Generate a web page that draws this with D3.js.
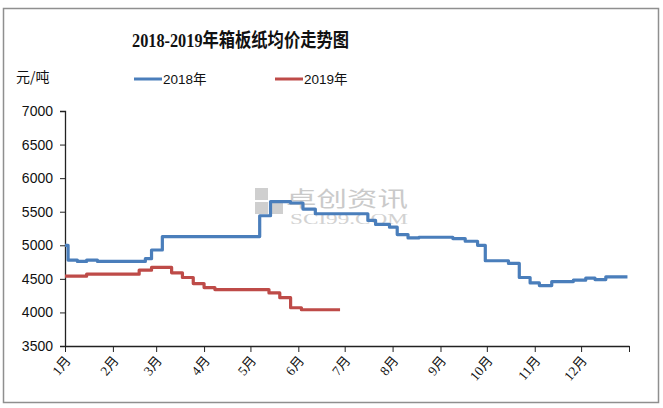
<!DOCTYPE html>
<html><head><meta charset="utf-8">
<script src="https://cdn.jsdelivr.net/npm/d3@7"></script>
<style>body{margin:0;background:#fff}svg{display:block}</style>
</head><body><svg id="c" width="663" height="408"></svg>
<script>
const title = "2018-2019年箱板纸均价走势图";
const unitLabel = "元/吨";
const seriesNames = ["2018年", "2019年"];
const monthLabels = ["1月","2月","3月","4月","5月","6月","7月","8月","9月","10月","11月","12月"];
const yTicks = [3500, 4000, 4500, 5000, 5500, 6000, 6500, 7000];

// change points (month-day) and price, drawn as step lines
const dates2018 = ["01-01","01-03","01-09","01-15","01-22","02-22","02-26","03-05","05-07","05-14","05-27","06-04","06-12",
  "07-16","07-21","07-30","08-04","08-11","08-18","09-09","09-17","09-25","09-30","10-15","10-22","10-29","11-04",
  "11-12","11-26","12-04","12-10","12-17","12-31"];
const values2018 = [5000,4780,4760,4780,4760,4800,4930,5130,5440,5650,5630,5540,5470,
  5370,5310,5270,5160,5110,5120,5100,5060,5000,4770,4730,4520,4440,4400,
  4460,4480,4510,4490,4530,4530];
const dates2019 = ["01-01","01-15","02-18","02-26","03-11","03-18","03-25","04-01","04-08","05-13","05-20","05-27","06-03","06-28"];
const values2019 = [4540,4570,4630,4670,4590,4520,4430,4370,4340,4290,4220,4070,4040,4040];

const colors = ["#4a7ebb", "#be4b48"];

const svg = d3.select("#c");
const parse = md => new Date(2018, +md.slice(0,2)-1, +md.slice(3,5));

const x = d3.scaleTime().domain([new Date(2018,0,1), new Date(2019,0,1)]).range([65, 629]);
const y = d3.scaleLinear().domain([3500, 7000]).range([346, 111]);

// frame
svg.append("rect").attr("x", 3.5).attr("y", 8.5).attr("width", 655).attr("height", 394)
  .attr("fill", "#fff").attr("stroke", "#8f8f8f").attr("stroke-width", 1.5);

// watermark
const wm = svg.append("g").attr("opacity", 0.7);
wm.append("rect").attr("x", 255).attr("y", 188).attr("width", 13).attr("height", 12).attr("fill", "#bbb");
wm.append("rect").attr("x", 255).attr("y", 202).attr("width", 13).attr("height", 12).attr("fill", "#bbb");
wm.append("rect").attr("x", 270).attr("y", 202).attr("width", 13).attr("height", 12).attr("fill", "#bbb");
wm.append("text").attr("x", 286).attr("y", 206).attr("font-family", "Noto Sans CJK SC").attr("font-size", 21)
  .attr("textLength", 122).attr("lengthAdjust", "spacingAndGlyphs")
  .attr("fill", "#b5b5b5").text("卓创资讯");
wm.append("text").attr("x", 290).attr("y", 224).attr("font-family", "Liberation Serif").attr("font-size", 14)
  .attr("textLength", 118).attr("lengthAdjust", "spacingAndGlyphs")
  .attr("fill", "#c0c0c0").text("SCI99.COM");

// title
svg.append("text").attr("x", 132).attr("y", 47)
  .attr("font-family", "Liberation Serif, Noto Sans CJK SC").attr("font-weight", "bold").attr("font-size", 19)
  .attr("textLength", 217).attr("lengthAdjust", "spacingAndGlyphs")
  .attr("fill", "#111").text(title);

// unit
svg.append("text").attr("x", 16).attr("y", 82).attr("font-family", "Noto Sans CJK SC").attr("font-size", 14)
  .attr("fill", "#111").text(unitLabel);

// legend
const legX = [134, 275];
seriesNames.forEach((n, i) => {
  svg.append("line").attr("x1", legX[i]).attr("x2", legX[i] + 28).attr("y1", 79).attr("y2", 79)
    .attr("stroke", colors[i]).attr("stroke-width", 3);
  svg.append("text").attr("x", legX[i] + 29).attr("y", 84).attr("font-family", "Liberation Sans, Noto Sans CJK SC")
    .attr("font-size", 13.5).attr("fill", "#111").text(n);
});

// y axis
const yAxis = svg.append("g").attr("transform", "translate(65,0)")
  .call(d3.axisLeft(y).tickValues(yTicks).tickSize(5).tickPadding(7).tickFormat(d3.format("d")));
yAxis.select(".domain").attr("stroke", "#222").attr("stroke-width", 1.3);
yAxis.selectAll(".tick line").attr("stroke", "#222");
yAxis.selectAll("text").attr("font-family", "Liberation Sans").attr("font-size", 14).attr("fill", "#111");

// x axis
const tickDates = d3.range(13).map(i => new Date(2018, i, 1));
const xAxis = svg.append("g").attr("transform", "translate(0,346)")
  .call(d3.axisBottom(x).tickValues(tickDates).tickSize(6).tickSizeOuter(0)
    .tickFormat((d, i) => i < 12 ? monthLabels[i] : ""));
xAxis.select(".domain").attr("stroke", "#222").attr("stroke-width", 1.3);
xAxis.selectAll(".tick line").attr("stroke", "#222");
xAxis.selectAll("text").attr("font-family", "Liberation Serif, Noto Sans CJK SC").attr("font-size", 13.5).attr("fill", "#111")
  .attr("text-anchor", "end").attr("dy", null).attr("y", 0).attr("x", 0)
  .attr("transform", "translate(6,15) rotate(-50)");

// lines
const line = d3.line().x(d => x(d.date)).y(d => y(d.value)).curve(d3.curveStepAfter);
const s2018 = dates2018.map((d, i) => ({date: parse(d), value: values2018[i]}));
const s2019 = dates2019.map((d, i) => ({date: parse(d), value: values2019[i]}));
[s2018, s2019].forEach((s, i) => {
  svg.append("path").datum(s).attr("d", line).attr("fill", "none")
    .attr("stroke", colors[i]).attr("stroke-width", 3.2).attr("stroke-linejoin", "round");
});
</script></body></html>
